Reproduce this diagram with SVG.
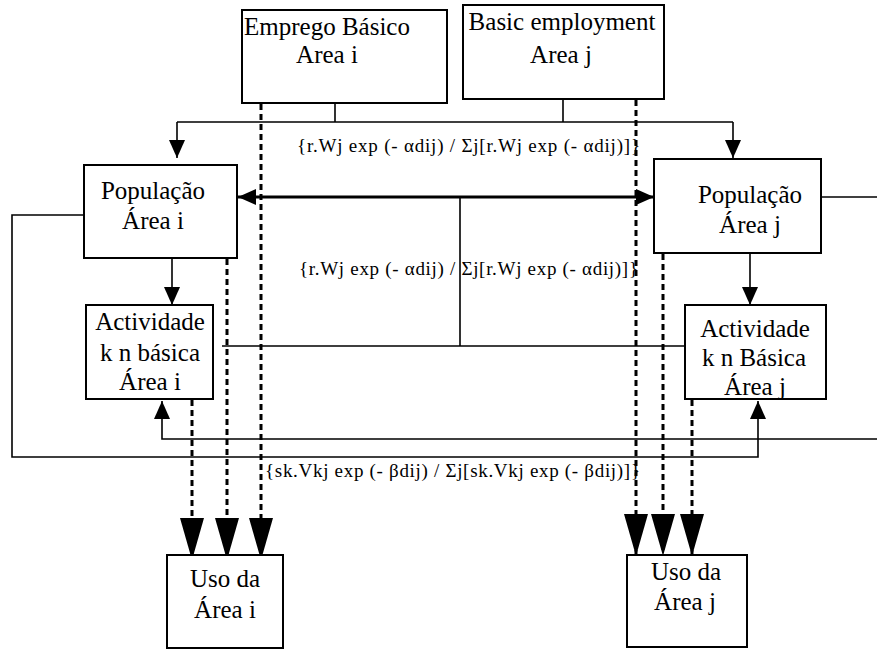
<svg xmlns="http://www.w3.org/2000/svg" width="877" height="649" viewBox="0 0 877 649">
<style>
  .box { fill: #fff; stroke: #000; stroke-width: 2; }
  .t { font-family: 'Liberation Serif', 'DejaVu Serif', 'Times New Roman', serif; font-size: 25px; fill: #000; text-anchor: middle; }
  .f { font-family: 'Liberation Serif', 'DejaVu Serif', 'Times New Roman', serif; font-size: 19px; fill: #000; }
  .ln { fill: none; stroke: #000; stroke-width: 1.6; }
  .thick { fill: none; stroke: #000; stroke-width: 3; }
  .dash { fill: none; stroke: #000; stroke-width: 3; stroke-dasharray: 6 4; }
</style>
<defs>
  <marker id="arr" markerUnits="userSpaceOnUse" markerWidth="18" markerHeight="16" refX="18" refY="8" orient="auto-start-reverse">
    <path d="M0,0 L18,8 L0,16 z" fill="#000"/>
  </marker>
  <marker id="big" markerUnits="userSpaceOnUse" markerWidth="42" markerHeight="24" refX="42" refY="12" orient="auto">
    <path d="M0,0 L42,12 L0,24 z" fill="#000"/>
  </marker>
</defs>

<g id="connectors">
  <path class="ln" d="M335,103 V122 M563,99 V122 M177,122 H733"/>
  <path class="ln" d="M177,122 V158" marker-end="url(#arr)"/>
  <path class="ln" d="M733,122 V158" marker-end="url(#arr)"/>
  <path class="thick" d="M238,197 H654" marker-start="url(#arr)" marker-end="url(#arr)"/>
  <path class="ln" d="M460,197 V346 M222,346 H685"/>
  <path class="ln" d="M813,197 H877"/>
  <path class="ln" d="M88,215 H12 V457 H758 V401" marker-end="url(#arr)"/>
  <path class="ln" d="M877,439 H162 V401" marker-end="url(#arr)"/>
  <path class="ln" d="M172,252 V305" marker-end="url(#arr)"/>
  <path class="ln" d="M750,253 V305" marker-end="url(#arr)"/>
  <path class="dash" d="M261,104 V560" marker-end="url(#big)"/>
  <path class="dash" d="M227,259 V560" marker-end="url(#big)"/>
  <path class="dash" d="M192,400 V560" marker-end="url(#big)"/>
  <path class="dash" d="M636,100 V556" marker-end="url(#big)"/>
  <path class="dash" d="M663,254 V556" marker-end="url(#big)"/>
  <path class="dash" d="M692,400 V556" marker-end="url(#big)"/>
</g>

<g id="emprego-i">
  <rect class="box" x="242" y="10" width="205" height="93"/>
  <text class="t" x="327" y="35">Emprego Básico</text>
  <text class="t" x="327" y="63">Area i</text>
</g>
<g id="basic-j">
  <rect class="box" x="463" y="5" width="201" height="94"/>
  <text class="t" x="562" y="30">Basic employment</text>
  <text class="t" x="561" y="63">Area j</text>
</g>
<g id="populacao-i">
  <rect class="box" x="84" y="165" width="153" height="93"/>
  <text class="t" x="153" y="199">População</text>
  <text class="t" x="153" y="229">Área i</text>
</g>
<g id="populacao-j">
  <rect class="box" x="654" y="159" width="167" height="94"/>
  <text class="t" x="750" y="203">População</text>
  <text class="t" x="750" y="233">Área j</text>
</g>
<g id="actividade-i">
  <rect class="box" x="86" y="305" width="127" height="94"/>
  <text class="t" x="150" y="330">Actividade</text>
  <text class="t" x="150" y="361">k n básica</text>
  <text class="t" x="150" y="390">Área i</text>
</g>
<g id="actividade-j">
  <rect class="box" x="685" y="305" width="141" height="94"/>
  <text class="t" x="755" y="337">Actividade</text>
  <text class="t" x="754" y="366">k n Básica</text>
  <text class="t" x="755" y="395">Área j</text>
</g>
<g id="uso-i">
  <rect class="box" x="167" y="555" width="116" height="93"/>
  <text class="t" x="225" y="587">Uso da</text>
  <text class="t" x="225" y="618">Área i</text>
</g>
<g id="uso-j">
  <rect class="box" x="627" y="555" width="120" height="92"/>
  <text class="t" x="686" y="580">Uso da</text>
  <text class="t" x="685" y="610">Área j</text>
</g>

<g id="labels">
  <text class="f" x="297" y="152" textLength="343" lengthAdjust="spacing">{r.Wj exp (- αdij) / Σj[r.Wj exp (- αdij)]}</text>
  <text class="f" x="299" y="275" textLength="339" lengthAdjust="spacing">{r.Wj exp (- αdij) / Σj[r.Wj exp (- αdij)]}</text>
  <text class="f" x="265" y="477" textLength="375" lengthAdjust="spacing">{sk.Vkj exp (- βdij) / Σj[sk.Vkj exp (- βdij)]}</text>
</g>
</svg>
